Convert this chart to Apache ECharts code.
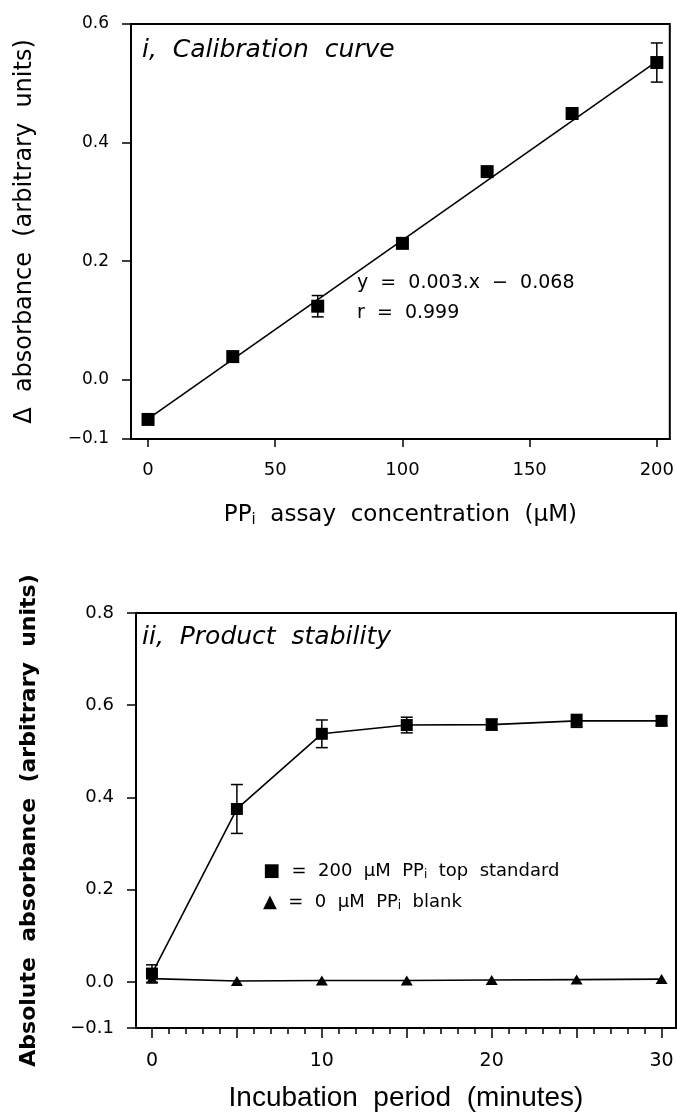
<!DOCTYPE html>
<html><head><meta charset="utf-8">
<script src="https://cdn.jsdelivr.net/npm/echarts@6/dist/echarts.min.js"></script>
<style>html,body{margin:0;padding:0;background:#fff}#c{width:677px;height:1116px}</style>
</head><body><div id="c"></div><script>
// ---- Panel i: calibration curve ----
const calX = [0, 33.3, 66.7, 100, 133.3, 166.7, 200];
const calY = [-0.067, 0.039, 0.124, 0.230, 0.351, 0.449, 0.535];
const calErr = [0, 0, 0.018, 0, 0, 0, 0.033];
const fitX = [0, 200];
const fitY = [-0.066, 0.537];
const calXTicks = [0, 50, 100, 150, 200];
const calYTicks = [-0.1, 0.0, 0.2, 0.4, 0.6];

// ---- Panel ii: product stability ----
const timeX = [0, 5, 10, 15, 20, 25, 30];
const topStdY = [0.018, 0.375, 0.538, 0.557, 0.558, 0.566, 0.566];
const topStdErr = [0.019, 0.053, 0.030, 0.017, 0.012, 0.014, 0.010];
const blankY = [0.007, 0.002, 0.003, 0.003, 0.004, 0.005, 0.006];
const timeXLabels = [0, 10, 20, 30];
const timeXTicks = [0, 5, 10, 15, 20, 25, 30];
const timeXMinor = [0,1,2,3,4,5,6,7,8,9,10,11,12,13,14,15,16,17,18,19,20,21,22,23,24,25,26,27,28,29,30];
const stabYTicks = [-0.1, 0.0, 0.2, 0.4, 0.6, 0.8];

const F = 'DejaVu Sans';
const fmtY = v => (v < 0 ? '\u2212' : '') + Math.abs(v).toFixed(1);

function errRender(params, api) {
  const x = api.value(0), lo = api.value(1), hi = api.value(2);
  if (hi - lo <= 0) return null;
  const a = api.coord([x, lo]), b = api.coord([x, hi]);
  const w = 6, st = {stroke: '#000', lineWidth: 1.5};
  return {type: 'group', children: [
    {type: 'line', shape: {x1: a[0], y1: a[1], x2: b[0], y2: b[1]}, style: st},
    {type: 'line', shape: {x1: a[0]-w, y1: a[1], x2: a[0]+w, y2: a[1]}, style: st},
    {type: 'line', shape: {x1: b[0]-w, y1: b[1], x2: b[0]+w, y2: b[1]}, style: st}
  ]};
}

const chart = echarts.init(document.getElementById('c'), null, {renderer: 'canvas'});
const axLine = {show: true, onZero: false, lineStyle: {color: '#000', width: 2}};
const gridBox = {show: true, borderColor: '#000', borderWidth: 2, backgroundColor: 'transparent', containLabel: false};

const option = {
  animation: false,
  backgroundColor: '#fff',
  grid: [
    Object.assign({left: 131, top: 24, width: 540, height: 415}, gridBox),
    Object.assign({left: 136, top: 613, width: 540, height: 415}, gridBox)
  ],
  xAxis: [
    {gridIndex: 0, type: 'value', position: 'bottom', min: -6.7, max: 205.1, splitLine: {show: false},
     axisLine: axLine,
     axisTick: {show: true, customValues: calXTicks, length: 8, lineStyle: {color: '#000', width: 1.5}},
     axisLabel: {customValues: calXTicks, margin: 22, color: '#000', fontFamily: F, fontSize: 18},
     name: '{a|PP}{s|i}{a|  assay  concentration  (\u03bcM)}', nameLocation: 'middle', nameGap: 64,
     nameTextStyle: {rich: {a: {fontFamily: F, fontSize: 23, color: '#000'}, s: {fontFamily: F, fontSize: 15, color: '#000', padding: [10, 0, 0, 0]}}}},
    {gridIndex: 1, type: 'value', position: 'bottom', min: -0.94, max: 30.85, splitLine: {show: false},
     axisLine: axLine,
     axisTick: {show: true, customValues: timeXTicks, length: 10, lineStyle: {color: '#000', width: 1.5}},
     axisLabel: {customValues: timeXLabels, margin: 24, color: '#000', fontFamily: F, fontSize: 19},
     name: 'Incubation  period  (minutes)', nameLocation: 'middle', nameGap: 56,
     nameTextStyle: {fontFamily: 'Liberation Sans', fontSize: 28, color: '#000'}},
    {gridIndex: 1, type: 'value', position: 'bottom', offset: 0, min: -0.94, max: 30.85, splitLine: {show: false},
     axisLine: {show: false, onZero: false},
     axisTick: {show: true, customValues: timeXMinor, length: 6, lineStyle: {color: '#000', width: 1.5}},
     axisLabel: {show: false}}
  ],
  yAxis: [
    {gridIndex: 0, type: 'value', position: 'left', min: -0.1, max: 0.6, splitLine: {show: false},
     axisLine: axLine,
     axisTick: {show: true, customValues: calYTicks, length: 9, lineStyle: {color: '#000', width: 1.5}},
     axisLabel: {customValues: calYTicks, formatter: fmtY, margin: 22, color: '#000', fontFamily: F, fontSize: 17},
     name: '\u0394  absorbance  (arbitrary  units)', nameLocation: 'middle', nameGap: 94,
     nameTextStyle: {fontFamily: F, fontSize: 24, color: '#000'}},
    {gridIndex: 1, type: 'value', position: 'left', min: -0.1, max: 0.8, splitLine: {show: false},
     axisLine: axLine,
     axisTick: {show: true, customValues: stabYTicks, length: 9, lineStyle: {color: '#000', width: 1.5}},
     axisLabel: {customValues: stabYTicks, formatter: fmtY, margin: 22, color: '#000', fontFamily: F, fontSize: 18},
     name: 'Absolute  absorbance  (arbitrary  units)', nameLocation: 'middle', nameGap: 96,
     nameTextStyle: {fontFamily: F, fontSize: 22, fontWeight: 'bold', color: '#000'}}
  ],
  series: [
    {type: 'line', xAxisIndex: 0, yAxisIndex: 0, data: fitX.map((x, i) => [x, fitY[i]]),
     showSymbol: false, lineStyle: {color: '#000', width: 1.6}, silent: true, z: 2},
    {type: 'custom', xAxisIndex: 0, yAxisIndex: 0, renderItem: errRender,
     encode: {x: 0, y: [1, 2]}, data: calX.map((x, i) => [x, calY[i] - calErr[i], calY[i] + calErr[i]]), z: 3},
    {type: 'scatter', xAxisIndex: 0, yAxisIndex: 0, data: calX.map((x, i) => [x, calY[i]]),
     symbol: 'rect', symbolSize: 13, itemStyle: {color: '#000', opacity: 1}, z: 4},

    {type: 'custom', xAxisIndex: 1, yAxisIndex: 1, renderItem: errRender,
     encode: {x: 0, y: [1, 2]}, data: timeX.map((x, i) => [x, topStdY[i] - topStdErr[i], topStdY[i] + topStdErr[i]]), z: 3},
    {type: 'line', xAxisIndex: 1, yAxisIndex: 1, data: timeX.map((x, i) => [x, topStdY[i]]),
     symbol: 'rect', symbolSize: 12, showAllSymbol: true,
     lineStyle: {color: '#000', width: 1.6}, itemStyle: {color: '#000', opacity: 1}, z: 4},
    {type: 'line', xAxisIndex: 1, yAxisIndex: 1, data: timeX.map((x, i) => [x, blankY[i]]),
     symbol: 'triangle', symbolSize: [12, 10], showAllSymbol: true,
     lineStyle: {color: '#000', width: 1.6}, itemStyle: {color: '#000', opacity: 1}, z: 4}
  ],
  graphic: [
    {type: 'text', x: 142, y: 50, style: {text: 'i,  Calibration  curve', font: 'italic 25px "DejaVu Sans"', fill: '#000', verticalAlign: 'middle'}},
    {type: 'text', x: 357, y: 283, style: {text: 'y  =  0.003.x  \u2212  0.068', font: '19px "DejaVu Sans"', fill: '#000', verticalAlign: 'middle'}},
    {type: 'text', x: 357, y: 313, style: {text: 'r  =  0.999', font: '19px "DejaVu Sans"', fill: '#000', verticalAlign: 'middle'}},
    {type: 'text', x: 142, y: 637, style: {text: 'ii,  Product  stability', font: 'italic 25px "DejaVu Sans"', fill: '#000', verticalAlign: 'middle'}},
    {type: 'text', x: 263, y: 871, style: {
      text: '{a|\u25a0  =  200  \u03bcM  PP}{s|i}{a|  top  standard}', verticalAlign: 'middle',
      rich: {a: {fontFamily: F, fontSize: 18, fill: '#000'}, s: {fontFamily: F, fontSize: 12, fill: '#000', padding: [8, 0, 0, 0]}}}},
    {type: 'text', x: 263, y: 902, style: {
      text: '{a|\u25b2  =  0  \u03bcM  PP}{s|i}{a|  blank}', verticalAlign: 'middle',
      rich: {a: {fontFamily: F, fontSize: 18, fill: '#000'}, s: {fontFamily: F, fontSize: 12, fill: '#000', padding: [8, 0, 0, 0]}}}}
  ]
};
chart.setOption(option);
</script></body></html>
